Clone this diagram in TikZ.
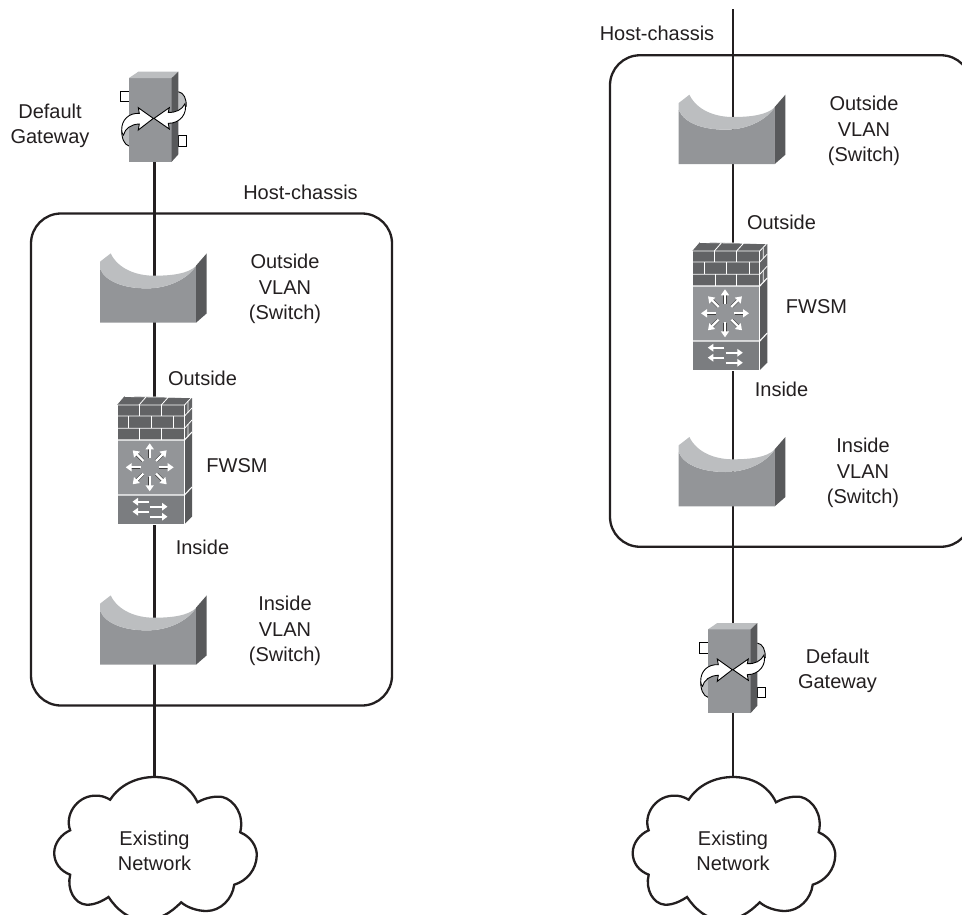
\documentclass[tikz,border=0pt]{standalone}
\usepackage{fontspec}
\setmainfont{Liberation Sans}
\usetikzlibrary{arrows.meta}
\definecolor{ink}{HTML}{231F20}
\definecolor{frontgray}{HTML}{939598}
\definecolor{sidegray}{HTML}{58595B}
\definecolor{lightgray}{HTML}{BCBEC0}
\definecolor{brickgray}{HTML}{626365}
\definecolor{panelgray}{HTML}{7B7D80}
\tikzset{
  wire/.style={draw=ink,line width=2.3pt},
  chassis/.style={draw=ink,line width=2.3pt,rounded corners=30pt},
  lab/.style={text=ink,align=center,inner sep=0pt,font=\fontsize{20}{25.6}\selectfont},
  mortar/.style={draw=white,line width=0.8pt},
  curl/.style={draw=black,line width=0.9pt,line join=miter},
  vlanicon/.pic={
    \fill[frontgray] (0,0)--(0,-54) .. controls (6,-40) and (26,-34.3) .. (47,-34.3) .. controls (66,-34.3) and (86,-42) .. (96,-56.7)--(96,0)--cycle;
    \fill[lightgray] (0,-61)--(10.7,-69.3) .. controls (18,-54) and (36,-47) .. (54,-47) .. controls (72,-47) and (88,-49) .. (96,-56.7) .. controls (86,-42) and (66,-34.3) .. (47,-34.3) .. controls (26,-34.3) and (6,-40) .. (0,-54)--cycle;
    \fill[sidegray] (96,0)--(96,-57)--(106.7,-69.3)--(106.7,-9.3)--cycle;
  },
  gwicon/.pic={
    \draw[black,fill=white,line width=0.9pt] (-9,-70.7) rectangle (0,-60);
    \draw[black,fill=white,line width=0.9pt] (49.3,-26) rectangle (57,-15.7);
    \fill[lightgray] (49.3,-70) .. controls (55,-69) and (57.5,-63) .. (57.3,-55) -- (49.3,-42) -- cycle;
    \draw[curl] (49.3,-70) .. controls (55,-69) and (57.5,-63) .. (57.3,-55);
    \fill[lightgray] (0,-15.7) .. controls (-5,-17) and (-7.5,-24) .. (-7.3,-32) -- (0,-36) -- cycle;
    \draw[curl] (0,-15.7) .. controls (-5,-17) and (-7.5,-24) .. (-7.3,-32);
    \fill[frontgray] (0,0) rectangle (42.7,-83.7);
    \fill[lightgray] (0,-83.7)--(9.3,-90)--(49.3,-90)--(42.7,-83.7)--cycle;
    \fill[sidegray] (42.7,0)--(42.7,-83.7)--(49.3,-90)--(49.3,-7.3)--cycle;
    \draw[curl,fill=white] (24.3,-43.3)--(9.3,-54)--(10.3,-48.3) .. controls (0,-49) and (-7.5,-42) .. (-7.3,-31.7) .. controls (-7.3,-29) and (-6.5,-27.5) .. (-5.5,-26.7) .. controls (-4,-33) and (2,-37.5) .. (10.3,-37.7)--(9.3,-31.7)--cycle;
    \draw[curl,fill=white] (25,-43.3)--(40.3,-54)--(39.3,-49.3) .. controls (47,-49) and (53,-52) .. (56,-58) .. controls (58.5,-49) and (52,-38.5) .. (39.3,-38.3)--(40.3,-32.7)--cycle;
  },
  fwicon/.pic={
    \fill[brickgray] (0,-119)--(7.7,-128)--(75,-126)--(75,-92)--(67.5,-84)--(0,-84)--cycle;
    \fill[sidegray] (67.5,-84)--(75,-92)--(75,-7.3)--(67.5,0)--cycle;
    \fill[frontgray] (0,-84) rectangle (67.5,-29);
    \fill[panelgray] (0,-29) rectangle (67.5,0);
    \draw[mortar] (0,-119)--(67.5,-119)--(75,-127);
    \draw[mortar] (0,-108)--(67.5,-108)--(75,-116);
    \draw[mortar] (0,-95.7)--(67.5,-95.7)--(75,-104);
    \draw[mortar,line width=1.1pt] (0,-84)--(67.5,-84)--(75,-92);
    \draw[mortar,line width=1.1pt] (0,-29)--(67.5,-29)--(75,-37);
    \draw[mortar] (0,0)--(67.5,0);
    \draw[mortar] (0,-119)--(0,0) (67.5,-119)--(67.5,0);
    \draw[mortar] (22,-119)--(22,-108) (44.3,-119)--(44.3,-108) (11.7,-108)--(11.7,-95.7) (34.3,-108)--(34.3,-95.7) (56.7,-108)--(56.7,-95.7) (22.7,-95.7)--(22.7,-84) (44.3,-95.7)--(44.3,-84);
    \draw[mortar] (22,-119)--(29,-127) (44.3,-119)--(51.5,-127) (7.7,-127.5)--(75,-126.5) (71,-122.5)--(71,-111.5) (71,-100)--(71,-88);
    \foreach \a in {0,45,...,315}{
      \draw[draw=black!75,line width=3.4pt] (\a:9.5) ++(32.7,-56.7) -- ++(\a:10);
      \draw[white,line width=2.3pt,-{Triangle[length=6pt,width=8pt]}] (\a:9) ++(32.7,-56.7) -- ++(\a:15);
    }
    \draw[white,line width=2.1pt,-{Triangle[length=5.5pt,width=7.5pt]}] (32,-22.3)--(15.5,-22.3);
    \draw[white,line width=2.1pt,-{Triangle[length=5.5pt,width=7.5pt]}] (32,-12.3)--(15.5,-12.3);
    \draw[white,line width=2.1pt,-{Triangle[length=5.5pt,width=7.5pt]}] (33.3,-17.3)--(50.5,-17.3);
    \draw[white,line width=2.1pt,-{Triangle[length=5.5pt,width=7.5pt]}] (33.3,-7.3)--(50.5,-7.3);
  },
  cloudicon/.pic={
    \draw[ink,line width=2.3pt,fill=white] (-44.3,22.7) .. controls (-35,8) and (-18,0) .. (0,0)
      .. controls (18,0) and (35,8) .. (43,25.3)
      .. controls (52,20) and (62,19) .. (68,20) .. controls (80,23) and (90,38) .. (85.7,55.3)
      .. controls (97,60) and (102.3,70) .. (102.3,78) .. controls (102,93) and (92,104) .. (79.7,107.7)
      .. controls (78,122) and (66,134) .. (52,134) .. controls (42,134) and (32,130) .. (26.7,125.3)
      .. controls (16,136) and (5,143) .. (-10,143) .. controls (-26,143) and (-38,132) .. (-46,120)
      .. controls (-52,124) and (-60,128) .. (-68,127.7) .. controls (-80,127) and (-88,112) .. (-84.3,97.7)
      .. controls (-94,94) and (-100.3,86) .. (-100.3,76) .. controls (-100.3,66) and (-93,57) .. (-84.3,53.3)
      .. controls (-90,38) and (-78,20) .. (-61,18.7) .. controls (-54,18) and (-49,20) .. (-44.3,22.7) -- cycle;
  }
}
\begin{document}
\begin{tikzpicture}[x=1pt,y=-1pt]
\useasboundingbox (0,0) rectangle (962,914);
\clip (0,0) rectangle (962,914);
% connection points
\coordinate (gwL) at (154.5,118);
\coordinate (voL) at (154.5,290);
\coordinate (fwL) at (154.5,465);
\coordinate (viL) at (154.5,632);
\coordinate (ntL) at (154.5,777);
\coordinate (topR) at (733,9);
\coordinate (voR) at (733,132);
\coordinate (fwR) at (733,311);
\coordinate (viR) at (733,474);
\coordinate (gwR) at (733,670);
\coordinate (ntR) at (733,777);
% chassis
\node[chassis,minimum width=361pt,minimum height=492pt,inner sep=0pt] (chL) at (211.5,459.5) {};
\node[chassis,minimum width=361pt,minimum height=491.5pt,inner sep=0pt] (chR) at (790.5,301) {};
% connectors
\draw[wire] (gwL)--(voL);
\draw[wire] (voL)--(fwL);
\draw[wire] (fwL)--(viL);
\draw[wire] (viL)--(ntL);
\draw[wire] (topR)--(voR);
\draw[wire] (voR)--(fwR);
\draw[wire] (fwR)--(viR);
\draw[wire] (viR)--(gwR);
\draw[wire] (gwR)--(ntR);
% icons
\pic at (129,161.7) {gwicon};
\pic at (100,322.7) {vlanicon};
\pic at (117,524) {fwicon};
\pic at (100,664.7) {vlanicon};
\pic at (154.5,777) {cloudicon};
\pic at (678.7,164) {vlanicon};
\pic at (692.3,370) {fwicon};
\pic at (678.7,506.3) {vlanicon};
\pic at (708,713) {gwicon};
\pic at (733,777) {cloudicon};
% labels left
\node[lab] (t1) at (50,126) {Default\\Gateway};
\node[lab] (t2) at (300.5,192) {Host-chassis};
\node[lab] (t3) at (285,289) {Outside\\VLAN\\(Switch)};
\node[lab] (t4) at (202.5,378) {Outside};
\node[lab] (t5) at (237,466) {FWSM};
\node[lab] (t6) at (202.5,547) {Inside};
\node[lab] (t7) at (285,631) {Inside\\VLAN\\(Switch)};
\node[lab] (t8) at (154.5,851) {Existing\\Network};
% labels right
\node[lab] (u2) at (657,33) {Host-chassis};
\node[lab] (u3) at (864,131) {Outside\\VLAN\\(Switch)};
\node[lab] (u4) at (781.5,222) {Outside};
\node[lab] (u5) at (816.5,307) {FWSM};
\node[lab] (u6) at (781.5,389) {Inside};
\node[lab] (u7) at (863,473) {Inside\\VLAN\\(Switch)};
\node[lab] (u1) at (837.5,671) {Default\\Gateway};
\node[lab] (u8) at (733,851) {Existing\\Network};
\end{tikzpicture}
\end{document}
